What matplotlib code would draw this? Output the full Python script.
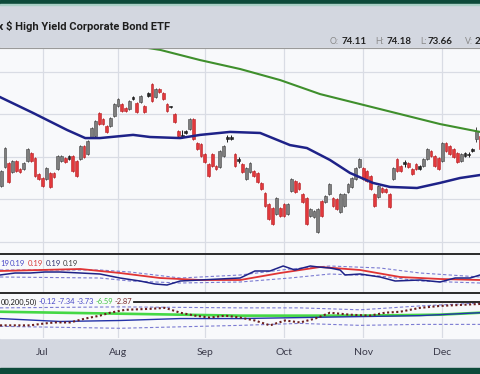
import matplotlib
matplotlib.use('Agg')
import matplotlib.pyplot as plt
from matplotlib.patches import Rectangle
from matplotlib.lines import Line2D
import numpy as np
import pandas as pd

W, H = 480, 374

# trading days shown (NYSE holidays removed)
holidays = pd.to_datetime(['2022-07-04', '2022-09-05', '2022-11-24'])
days = pd.bdate_range('2022-06-16', '2022-12-30')
days = days[~days.isin(holidays)][:128]

# daily candles
opens = [74.65, 75.54, 75.71, 75.31, 75.80, 75.44, 75.45, 75.83, 76.18, 75.94,
         75.19, 75.00, 74.98, 75.24, 75.25, 75.45, 75.83, 75.95, 75.92, 76.03,
         75.80, 75.92, 76.51, 76.15, 76.95, 77.00, 78.06, 77.78, 77.44, 77.47,
         77.94, 78.41, 78.48, 78.30, 78.27, 78.73, 78.53, 78.60, 78.39, 78.87,
         79.42, 78.84, 79.20, 79.00, 78.48, 78.33, 78.01, 77.21, 76.95, 77.12,
         77.33, 77.78, 76.65, 76.60, 76.13, 75.66, 76.13, 75.57, 75.54, 76.06,
         76.85, 76.86, 76.13, 75.80, 75.66, 74.98, 75.31, 75.33, 75.24, 74.76,
         74.29, 73.78, 73.59, 73.33, 73.59, 73.78, 73.33, 74.41, 74.86, 74.76,
         74.25, 74.06, 73.24, 73.19, 72.48, 73.92, 73.90, 74.27, 74.06, 74.01,
         73.43, 73.71, 74.37, 74.60, 74.98, 75.54, 75.47, 75.33, 75.09, 74.25,
         74.13, 74.54, 74.49, 74.25, 74.98, 75.89, 75.57, 75.66, 75.72, 75.42,
         75.66, 75.44, 75.59, 75.92, 76.27, 76.03, 75.94, 75.83, 76.65, 76.51,
         76.36, 76.18, 75.83, 76.05, 76.08, 76.30, 76.85, 76.98]
highs = [75.39, 76.47, 75.77, 75.86, 75.86, 75.48, 75.77, 76.42, 76.24, 76.00,
         75.25, 75.06, 75.53, 75.30, 75.30, 76.09, 76.09, 76.00, 76.09, 76.09,
         75.86, 76.57, 76.57, 76.80, 77.41, 77.74, 78.12, 77.84, 77.50, 77.88,
         78.54, 78.78, 78.54, 78.35, 78.68, 78.87, 78.59, 78.92, 78.45, 79.06,
         79.48, 79.25, 79.25, 79.06, 78.54, 78.40, 78.07, 77.27, 77.27, 77.27,
         77.84, 77.84, 76.71, 76.66, 76.19, 75.72, 76.19, 75.62, 76.33, 76.57,
         77.04, 77.04, 76.19, 76.00, 75.72, 75.53, 75.77, 75.39, 75.30, 74.82,
         74.35, 73.84, 73.65, 74.12, 73.65, 73.84, 73.84, 75.01, 74.92, 74.82,
         74.31, 74.12, 73.60, 73.51, 73.60, 73.98, 74.21, 74.78, 74.12, 74.07,
         74.31, 74.31, 74.78, 75.06, 75.53, 75.95, 75.53, 75.39, 75.15, 74.31,
         74.68, 74.59, 74.54, 74.31, 75.53, 75.95, 75.62, 75.86, 75.77, 75.48,
         75.72, 75.62, 75.95, 76.42, 76.33, 76.09, 76.00, 76.71, 76.71, 76.57,
         76.42, 76.24, 76.19, 76.24, 76.24, 76.42, 77.41, 77.04]
lows = [74.59, 75.48, 74.78, 75.25, 75.30, 75.25, 75.39, 75.77, 75.77, 75.06,
        74.92, 74.59, 74.92, 74.54, 75.01, 75.39, 75.77, 75.72, 75.86, 75.30,
        75.06, 75.86, 75.95, 76.09, 76.89, 76.94, 77.50, 77.50, 77.13, 77.41,
        77.88, 78.35, 78.12, 78.12, 78.21, 78.68, 78.07, 78.54, 78.07, 78.82,
        78.59, 78.78, 79.01, 78.68, 78.12, 78.31, 77.60, 76.94, 76.89, 77.08,
        77.27, 76.80, 76.33, 76.00, 75.72, 75.06, 75.53, 75.39, 75.48, 76.00,
        76.71, 76.80, 75.53, 75.72, 75.25, 74.92, 75.25, 75.06, 74.78, 74.45,
        73.65, 73.04, 72.80, 73.27, 73.18, 73.18, 73.27, 74.35, 74.31, 74.45,
        73.84, 72.80, 73.18, 73.13, 72.42, 73.18, 73.84, 74.21, 73.65, 73.51,
        73.37, 73.65, 74.31, 74.54, 74.92, 75.48, 74.92, 74.82, 74.45, 73.65,
        74.07, 74.31, 74.31, 73.60, 74.92, 75.30, 75.30, 75.53, 75.48, 75.15,
        75.39, 75.39, 75.53, 75.86, 76.00, 75.53, 75.39, 75.77, 76.24, 76.09,
        75.95, 75.72, 75.77, 76.00, 76.00, 76.24, 76.71, 76.33]
closes = [75.33, 76.41, 74.84, 75.80, 75.36, 75.29, 75.71, 76.36, 75.83, 75.12,
          74.98, 74.65, 75.47, 74.60, 75.06, 76.03, 76.03, 75.77, 76.03, 75.36,
          75.12, 76.51, 76.01, 76.74, 77.35, 77.68, 77.56, 77.56, 77.19, 77.82,
          78.48, 78.72, 78.18, 78.17, 78.62, 78.82, 78.13, 78.86, 78.13, 79.01,
          78.65, 79.19, 79.06, 78.74, 78.18, 78.38, 77.66, 77.00, 77.05, 77.22,
          77.78, 76.86, 76.39, 76.06, 75.78, 75.12, 75.59, 75.44, 76.27, 76.51,
          76.95, 76.94, 75.59, 75.90, 75.31, 75.47, 75.71, 75.12, 74.84, 74.51,
          73.71, 73.10, 72.86, 74.06, 73.24, 73.24, 73.78, 74.95, 74.37, 74.51,
          73.90, 72.86, 73.54, 73.45, 73.54, 73.24, 74.15, 74.72, 73.71, 73.57,
          74.25, 74.25, 74.72, 75.00, 75.47, 75.89, 74.98, 74.88, 74.51, 73.71,
          74.62, 74.36, 74.36, 73.66, 75.47, 75.36, 75.35, 75.76, 75.53, 75.21,
          75.45, 75.57, 75.89, 76.36, 76.06, 75.59, 75.45, 76.65, 76.30, 76.15,
          76.01, 75.78, 76.13, 76.19, 76.16, 76.36, 77.20, 76.39]

# moving averages (bar index, value)
ma50_at = [-0.3, 8.5, 17.5, 22.3, 26.2, 35, 39.5, 47.5, 52.8, 60.7, 68.7,
           76.6, 81.1, 87.2, 92.5, 98.6, 103.1, 110.3, 116.4, 121.7, 127]
ma50 = [78.82, 78.07, 77.27, 76.89, 76.89, 77.04, 76.94, 76.89, 77.04, 77.18,
        77.13, 76.56, 76.42, 75.86, 75.25, 74.78, 74.59, 74.54, 74.78, 75.01, 75.15]
ma200_at = [26, 39, 42.2, 52.8, 63.4, 74, 84.6, 95.2, 105.8, 116.4, 127]
ma200 = [81.69, 81.13, 81.04, 80.56, 80.14, 79.62, 78.96, 78.49, 78.02, 77.55, 77.18]

# upper indicator (ratio)
rel_at = [-0.3, 3.7, 7.7, 11.6, 15.6, 21, 26.2, 31.5, 36.8, 40.8, 44, 47.5,
          52.8, 58, 63.4, 67.3, 71.3, 74.8, 77.9, 82, 84.1, 87.2, 89.9, 91.2,
          95.2, 100.5, 104.5, 111.1, 116.4, 120.4, 124.4, 127]
rel = [0.1895, 0.1905, 0.1905, 0.191, 0.191, 0.1905, 0.19, 0.188, 0.1865,
       0.185, 0.1845, 0.1865, 0.187, 0.1875, 0.188, 0.1915, 0.1915, 0.194,
       0.192, 0.194, 0.1935, 0.193, 0.192, 0.1895, 0.19, 0.1885, 0.1865,
       0.187, 0.186, 0.188, 0.188, 0.1895]
rel_ma_at = [-0.3, 21, 31.5, 42.1, 52.8, 63.4, 74, 84.6, 95.2, 105.8, 116.4, 127]
rel_ma = [0.1915, 0.1925, 0.1905, 0.188, 0.187, 0.187, 0.1905, 0.1935, 0.192,
          0.1885, 0.1875, 0.187]
band_at = [-0.3, 26.2, 34.2, 47.5, 63.4, 76.6, 87.2, 100.5, 111.1, 127]
rel_up = [0.192, 0.192, 0.191, 0.188, 0.1895, 0.1925, 0.194, 0.193, 0.1905, 0.1885]
rel_dn = [0.1885, 0.188, 0.1865, 0.1855, 0.186, 0.188, 0.19, 0.189, 0.1865, 0.1855]

# lower indicator
osc_green_at = [-0.3, 31.5, 63.4, 95.2, 116.4, 127]
osc_green = [2, 1, 0, 0, 0.5, 1.5]
osc_blue_at = [-0.3, 15.6, 31.5, 47.5, 63.4, 79.3, 95.2, 111.1, 121.7, 127]
osc_blue = [-1.5, -3, -2.5, -1.5, -1.5, -1, -0.5, 0, 1, 1.5]
osc_dot_at = [-0.3, 3.7, 7.7, 11.6, 14.3, 18.3, 22.3, 26.2, 28.9, 32.9, 39.5,
              43.5, 47.5, 51.4, 55.4, 59.4, 63.4, 67.3, 71.3, 75.3, 79.3, 83.3,
              87.2, 92.5, 97.8, 101.8, 105.8, 111.1, 116.4, 121.7, 127]
osc_dot = [-5, -5, -5, -4, -3.5, -3.5, -1.5, 0, 1.5, 3, 3.5, 4, 1.5, 0, -1, 0,
           -1, -2.5, -5, -2.5, -3.5, -1.5, 1.5, 0.5, 0, 1.5, 2, 4, 5, 5.5, 6]
osc_band_at = [-0.3, 31.5, 63.4, 79.3, 95.2, 111.1, 127]
osc_up = [4, 4.5, 4, 4, 3, 5, 6.5]
osc_dn = [-5.5, -6.5, -5, -4, -5, -4.5, -4.5]

# legend values printed in the panels
rel_labels = ['19', '0.19', '0.19', '0.19', '0.19']
osc_labels = ['00,200,50)', '-0.12', '-7.34', '-3.73', '-6.59', '-2.87']

BG = '#d3d7e0'
PANEL = '#f8f9fb'
GRID = '#d9dce4'


def frac(x0, y0, x1, y1):
    return [x0 / W, 1 - y1 / H, (x1 - x0) / W, (y1 - y0) / H]


fig = plt.figure(figsize=(W / 100, H / 100), dpi=100)
fig.patch.set_facecolor(BG)

# bands
fig.add_artist(Rectangle((0, 1 - 4 / H), 1, 4 / H, transform=fig.transFigure,
                         color='#0d4a3a', zorder=0))
fig.add_artist(Rectangle((0, 1 - 5 / H), 1, 1 / H, transform=fig.transFigure,
                         color='#a9cfc6', zorder=0))
fig.add_artist(Rectangle((0, 0), 1, 6 / H, transform=fig.transFigure,
                         color='#0d4a3a', zorder=0))
fig.add_artist(Rectangle((0, 1 - 338 / H), 1, 290 / H, transform=fig.transFigure,
                         color=PANEL, zorder=0))

x = np.arange(len(days))
month_pos = [i for i in range(1, len(days)) if days[i].month != days[i - 1].month]
month_lab = [days[i].strftime('%b') for i in month_pos]
xl = (-0.3, 127.0)


def style(ax):
    ax.set_facecolor('none')
    ax.set_xlim(*xl)
    for s in ax.spines.values():
        s.set_visible(False)
    ax.set_xticks(month_pos)
    ax.tick_params(length=0, labelbottom=False, labelleft=False)
    ax.set_yticks([])
    for p in month_pos:
        ax.axvline(p, color=GRID, lw=0.9, zorder=0)


# main price panel
ax = fig.add_axes(frac(0, 48, W, 253))
style(ax)
ax.set_ylim(71.48, 81.13)
for lev in [72, 74, 76, 78, 80]:
    ax.axhline(lev, color=GRID, lw=0.9, zorder=0)

o = np.array(opens); c = np.array(closes)
hi = np.array(highs); lo = np.array(lows)
down = c < o
small = (~down) & (np.abs(c - o) < 0.15)
face = np.where(down, '#e2383c', np.where(small, '#2a2a2a', '#7e7e7e'))
edge = np.where(down, '#b52226', np.where(small, '#1a1a1a', '#444444'))
ax.vlines(x, lo, hi, colors=edge, lw=0.7, zorder=2)
ax.bar(x, np.maximum(np.abs(c - o), 0.05), bottom=np.minimum(o, c), width=0.74,
       color=face, edgecolor=edge, linewidth=0.4, zorder=3)
ax.plot(ma200_at, ma200, color='#3f8f2c', lw=1.5, zorder=4)
ax.plot(ma50_at, ma50, color='#1e2288', lw=1.8, zorder=4)

# upper indicator
ax1 = fig.add_axes(frac(0, 255, W, 292))
style(ax1)
ax1.set_ylim(0.181, 0.1995)
ax1.plot(band_at, rel_up, color='#7b7bd2', lw=0.8, ls=(0, (3, 2)))
ax1.plot(band_at, rel_dn, color='#7b7bd2', lw=0.8, ls=(0, (3, 2)))
ax1.plot(rel_ma_at, rel_ma, color='#e03434', lw=1.3)
ax1.plot(rel_at, rel, color='#1e2288', lw=1.1)

# lower indicator
ax2 = fig.add_axes(frac(0, 303, W, 338))
style(ax2)
ax2.set_ylim(-11.5, 6.5)
ax2.plot(osc_band_at, osc_up, color='#7b7bd2', lw=0.8, ls=(0, (3, 2)))
ax2.plot(osc_band_at, osc_dn, color='#7b7bd2', lw=0.8, ls=(0, (3, 2)))
ax2.plot(osc_green_at, osc_green, color='#45d845', lw=1.9)
ax2.plot(osc_blue_at, osc_blue, color='#2433a8', lw=1.0)
ax2.plot(osc_dot_at, osc_dot, color='#6b1f1f', lw=1.5, ls=(0, (1, 1.2)))
ax2.tick_params(labelbottom=True, pad=7, labelsize=7.5, labelcolor='#3a3a4a')
ax2.set_xticks(month_pos, month_lab, fontfamily='Lato')

# separator lines
for yy, x0 in [(47.5, 0), (254, 0), (293, 0), (302, 134)]:
    col, lw = ('#9a9a9a', 0.8) if yy < 50 else ('#1a1a1a', 1.3)
    fig.add_artist(Line2D([x0 / W, 1], [1 - yy / H] * 2, transform=fig.transFigure,
                          color=col, lw=lw))

# header texts
fig.text(170 / W, 1 - 26 / H, 'iShares iBoxx $ High Yield Corporate Bond ETF',
         ha='right', va='center', fontsize=8, fontweight='bold', color='#1e1e1e',
         family=['Liberation Sans Narrow', 'Roboto'])
for xx, t, bold in [(330, 'O:', False), (342, '74.11', True), (375, 'H:', False),
                    (387, '74.18', True), (420, 'L:', False), (428, '73.66', True),
                    (465, 'V:', False), (475, '2', True)]:
    fig.text(xx / W, 1 - 42 / H, t, ha='left', va='center', family='Lato',
             fontsize=7 if bold else 6.3, fontweight='bold' if bold else 'normal',
             color='#222222' if bold else '#8a8a8a')

rel_cols = ['#4a4ac8', '#4a4ac8', '#d83a3a', '#303070', '#404040']
for xx, t, col in zip([0.5, 10, 28, 46, 63], rel_labels, rel_cols):
    fig.text(xx / W, 1 - 263 / H, t, ha='left', va='center', family='Lato',
             fontsize=5.6, color=col)
osc_cols = ['#1a1a1a', '#4a4ac8', '#4a4ac8', '#4a4ac8', '#3ec43e', '#7a2a2a']
for xx, t, col in zip([0.5, 39, 58, 77, 96, 115], osc_labels, osc_cols):
    fig.text(xx / W, 1 - 302 / H, t, ha='left', va='center', family='Lato',
             fontsize=5.4, color=col)

fig.savefig('out.png', dpi=100, facecolor=fig.get_facecolor())
